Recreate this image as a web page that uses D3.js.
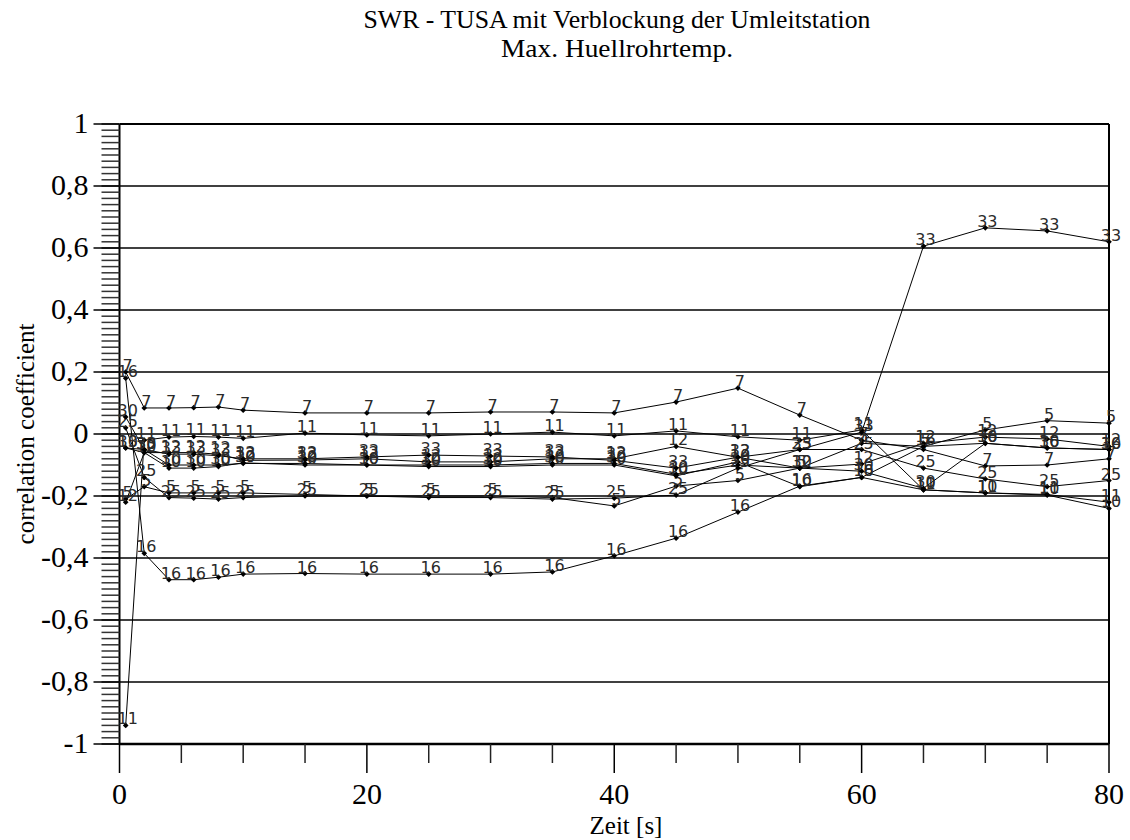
<!DOCTYPE html>
<html>
<head>
<meta charset="utf-8">
<script src="https://cdn.jsdelivr.net/npm/d3@7"></script>
<style>
  html, body { margin: 0; padding: 0; background: #fff; }
  svg { display: block; }
</style>
</head>
<body>
<svg id="chart" width="1130" height="840"></svg>
<script>
// Sample times [s]
const times = [0.5, 2, 4, 6, 8, 10, 15, 20, 25, 30, 35, 40, 45, 50, 55, 60, 65, 70, 75, 80];

// Correlation coefficient per input parameter (series name = parameter number)
const s5  = [-0.21, -0.17, -0.19, -0.19, -0.19, -0.19, -0.195, -0.2, -0.2, -0.2, -0.205, -0.232, -0.168, -0.15, -0.11, -0.03, -0.04, 0.013, 0.043, 0.035];
const s7  = [0.2, 0.084, 0.084, 0.085, 0.087, 0.077, 0.068, 0.068, 0.068, 0.071, 0.071, 0.068, 0.103, 0.148, 0.061, -0.02, -0.05, -0.103, -0.1, -0.08];
const s10 = [-0.045, -0.06, -0.11, -0.11, -0.105, -0.093, -0.1, -0.1, -0.105, -0.105, -0.1, -0.1, -0.135, -0.09, -0.17, -0.14, -0.18, -0.19, -0.197, -0.24];
const s11 = [-0.94, -0.02, -0.01, -0.008, -0.01, -0.014, 0.003, -0.003, -0.006, 0.0, 0.006, -0.006, 0.01, -0.009, -0.02, 0.013, -0.18, -0.19, -0.195, -0.22];
const s12 = [-0.22, -0.06, -0.06, -0.06, -0.065, -0.085, -0.084, -0.08, -0.09, -0.09, -0.08, -0.08, -0.04, -0.075, -0.11, -0.097, -0.03, -0.01, -0.016, -0.04];
const s16 = [0.18, -0.385, -0.47, -0.47, -0.462, -0.452, -0.45, -0.452, -0.452, -0.452, -0.445, -0.393, -0.336, -0.252, -0.168, -0.14, -0.04, -0.03, -0.045, -0.05];
const s25 = [0.02, -0.14, -0.205, -0.207, -0.21, -0.205, -0.2, -0.2, -0.205, -0.205, -0.21, -0.207, -0.197, -0.11, -0.05, -0.05, -0.11, -0.145, -0.17, -0.15];
const s30 = [0.055, -0.05, -0.1, -0.1, -0.1, -0.095, -0.095, -0.1, -0.1, -0.1, -0.095, -0.095, -0.13, -0.1, -0.11, -0.12, -0.175, -0.03, -0.045, -0.05];
const s33 = [-0.045, -0.05, -0.065, -0.065, -0.07, -0.08, -0.08, -0.074, -0.068, -0.071, -0.074, -0.085, -0.11, -0.075, -0.05, 0.006, 0.606, 0.665, 0.655, 0.62];

const seriesNames  = ["5", "7", "10", "11", "12", "16", "25", "30", "33"];
const seriesValues = [s5, s7, s10, s11, s12, s16, s25, s30, s33];

// Axis tick values and labels
const xMajorTicks = [0, 20, 40, 60, 80];
const xMinorTicks = [5, 10, 15, 25, 30, 35, 45, 50, 55, 65, 70, 75];
const yMajorTicks = [-1, -0.8, -0.6, -0.4, -0.2, 0, 0.2, 0.4, 0.6, 0.8, 1];
const yTickLabels = ["-1", "-0,8", "-0,6", "-0,4", "-0,2", "0", "0,2", "0,4", "0,6", "0,8", "1"];

const titleLines = ["SWR - TUSA mit Verblockung der Umleitstation", "Max. Huellrohrtemp."];
const xTitle = "Zeit [s]";
const yTitle = "correlation coefficient";

const svg = d3.select("#chart");
const serif = "'Liberation Serif', 'Times New Roman', serif";

const x = d3.scaleLinear().domain([0, 80]).range([119.5, 1109]);
const y = d3.scaleLinear().domain([-1, 1]).range([744, 124]);

// Title (narrow serif face)
svg.append("text").attr("x", 617).attr("y", 28).attr("text-anchor", "middle")
  .attr("font-family", serif).attr("font-size", 25)
  .attr("textLength", 507).attr("lengthAdjust", "spacingAndGlyphs")
  .text(titleLines[0]);
svg.append("text").attr("x", 617).attr("y", 57).attr("text-anchor", "middle")
  .attr("font-family", serif).attr("font-size", 25)
  .attr("textLength", 232).attr("lengthAdjust", "spacingAndGlyphs")
  .text(titleLines[1]);

// Horizontal grid lines
const grid = svg.append("g");
grid.selectAll("line").data(yMajorTicks.filter(v => v > -1 && v < 1)).join("line")
  .attr("x1", x(0)).attr("x2", x(80))
  .attr("y1", d => y(d)).attr("y2", d => y(d))
  .attr("stroke", "#000").attr("stroke-width", 1.5);

// Frame: top and right
svg.append("line").attr("x1", x(0)).attr("x2", x(80)).attr("y1", y(1)).attr("y2", y(1))
  .attr("stroke", "#000").attr("stroke-width", 2);
svg.append("line").attr("x1", x(80)).attr("x2", x(80)).attr("y1", y(1)).attr("y2", y(-1))
  .attr("stroke", "#000").attr("stroke-width", 2);

// Y axis with fine minor ticks
const yMinor = d3.range(-1, 1.0001, 0.02).map(v => +v.toFixed(2));
const yAxis = svg.append("g").attr("transform", `translate(${x(0)},0)`);
yAxis.append("line").attr("x1", 0).attr("x2", 0).attr("y1", y(1)).attr("y2", y(-1))
  .attr("stroke", "#000").attr("stroke-width", 2);
yAxis.selectAll("line.minor").data(yMinor).join("line").attr("class", "minor")
  .attr("x1", -18).attr("x2", 0).attr("y1", d => y(d)).attr("y2", d => y(d))
  .attr("stroke", "#333").attr("stroke-width", 1.5);
yAxis.selectAll("line.major").data(yMajorTicks).join("line").attr("class", "major")
  .attr("x1", -26).attr("x2", 0).attr("y1", d => y(d)).attr("y2", d => y(d))
  .attr("stroke", "#000").attr("stroke-width", 1.5);
yAxis.selectAll("text").data(yMajorTicks).join("text")
  .attr("x", -31).attr("y", d => y(d) + 9).attr("text-anchor", "end")
  .attr("font-family", serif).attr("font-size", 30)
  .text((d, i) => yTickLabels[i]);

// X axis
const xAxis = svg.append("g").attr("transform", `translate(0,${y(-1)})`);
xAxis.append("line").attr("x1", x(0)).attr("x2", x(80)).attr("y1", 0).attr("y2", 0)
  .attr("stroke", "#000").attr("stroke-width", 2.5);
xAxis.selectAll("line.minor").data(xMinorTicks).join("line").attr("class", "minor")
  .attr("x1", d => x(d)).attr("x2", d => x(d)).attr("y1", 0).attr("y2", 19)
  .attr("stroke", "#222").attr("stroke-width", 1.5);
xAxis.selectAll("line.major").data(xMajorTicks).join("line").attr("class", "major")
  .attr("x1", d => x(d)).attr("x2", d => x(d)).attr("y1", 0).attr("y2", 29)
  .attr("stroke", "#000").attr("stroke-width", 1.5);
xAxis.selectAll("text").data(xMajorTicks).join("text")
  .attr("x", d => x(d)).attr("y", 60).attr("text-anchor", "middle")
  .attr("font-family", serif).attr("font-size", 30)
  .text(d => d);

// Axis titles
svg.append("text").attr("x", 626).attr("y", 834).attr("text-anchor", "middle")
  .attr("font-family", serif).attr("font-size", 25).text(xTitle);
svg.append("text").attr("transform", "translate(34,434) rotate(-90)")
  .attr("text-anchor", "middle").attr("font-family", serif).attr("font-size", 25)
  .text(yTitle);

// Series lines, markers and number labels
const line = d3.line().x((d, i) => x(times[i])).y(d => y(d));
const plot = svg.append("g");
seriesValues.forEach((vals) => {
  plot.append("path").attr("d", line(vals))
    .attr("fill", "none").attr("stroke", "#000").attr("stroke-width", 1);
});
seriesValues.forEach((vals, k) => {
  const g = plot.append("g");
  g.selectAll("rect").data(vals).join("rect")
    .attr("x", (d, i) => x(times[i]) - 2).attr("y", d => y(d) - 2)
    .attr("width", 4).attr("height", 4).attr("fill", "#000")
    .attr("transform", (d, i) => `rotate(45,${x(times[i])},${y(d)})`);
  g.selectAll("text").data(vals).join("text")
    .attr("x", (d, i) => x(times[i]) + 2).attr("y", d => y(d) - 1)
    .attr("text-anchor", "middle")
    .attr("font-family", "'DejaVu Sans', sans-serif").attr("font-size", 16)
    .attr("fill", "#2a2a2a")
    .text(seriesNames[k]);
});
</script>
</body>
</html>
